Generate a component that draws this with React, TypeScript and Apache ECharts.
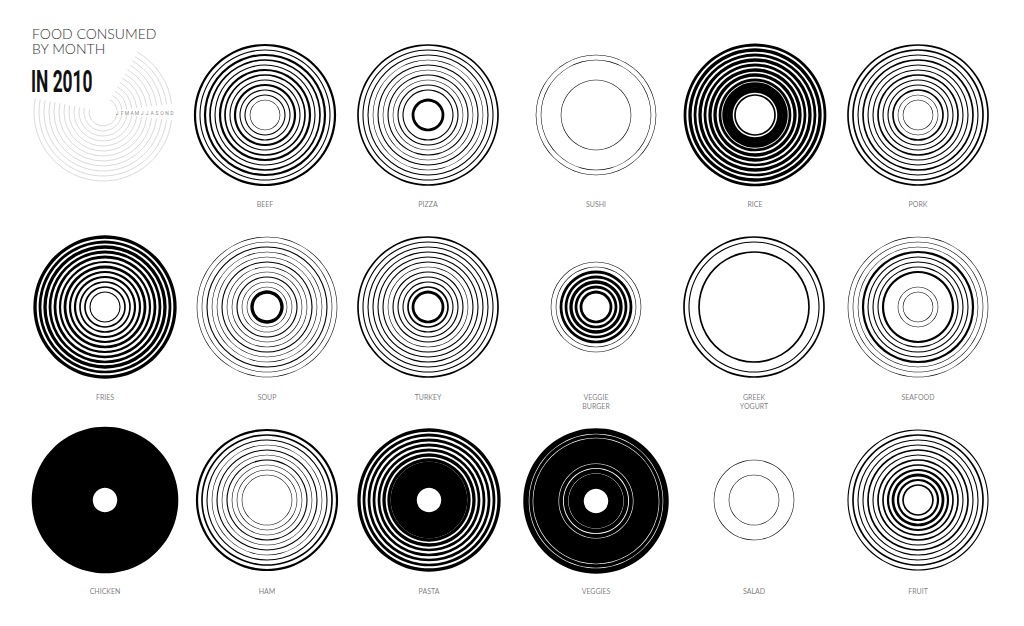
import React, { useEffect, useRef } from 'react';
import * as echarts from 'echarts';

// ---------- data ----------
const MONTHS = ['J', 'F', 'M', 'A', 'M', 'J', 'J', 'A', 'S', 'O', 'N', 'D'];
const FOODS = [
  'BEEF', 'PIZZA', 'SUSHI', 'RICE', 'PORK',
  'FRIES', 'SOUP', 'TURKEY', 'VEGGIE\nBURGER', 'GREEK\nYOGURT', 'SEAFOOD',
  'CHICKEN', 'HAM', 'PASTA', 'VEGGIES', 'SALAD', 'FRUIT',
];
// servings per month, January (inner ring) to December (outer ring)
const beef = [1, 2, 2, 4, 2, 3, 4, 2, 3, 4, 2, 4];
const pizza = [5, 0, 2, 2, 1, 2, 1, 2, 1, 2, 2, 3];
const sushi = [0, 0, 0, 0, 1, 0, 0, 0, 1, 1, 0, 0];
const rice = [0, 3, 10, 10, 5, 6, 6, 5, 6, 5, 6, 5];
const pork = [1, 1, 3, 2, 2, 3, 2, 2, 3, 2, 3, 3];
const fries = [2, 3, 3, 4, 4, 5, 4, 5, 5, 6, 5, 6];
const soup = [6, 1, 1, 2, 1, 1, 2, 1, 1, 2, 1, 1];
const turkey = [5, 3, 2, 2, 2, 1, 2, 2, 2, 2, 2, 3];
const veggieBurger = [5, 5, 6, 5, 5, 1, 1, 0, 0, 0, 0, 0];
const greekYogurt = [0, 0, 0, 0, 0, 0, 0, 0, 3, 0, 2, 3];
const seafood = [1, 1, 0, 0, 4, 2, 2, 2, 4, 1, 1, 1];
const chicken = [10, 12, 12, 12, 12, 12, 12, 12, 12, 12, 12, 12];
const ham = [0, 0, 1, 1, 1, 2, 1, 2, 1, 2, 3, 4];
const pasta = [10, 12, 12, 12, 12, 6, 6, 5, 5, 5, 5, 6];
const veggies = [10, 12, 9, 8, 7, 9, 12, 12, 12, 10, 6, 10];
const salad = [0, 0, 1, 0, 0, 1, 0, 0, 0, 0, 0, 0];
const fruit = [3, 4, 5, 4, 3, 3, 2, 3, 2, 2, 3, 2];
const FOOD_VALUES = [
  beef, pizza, sushi, rice, pork,
  fries, soup, turkey, veggieBurger, greekYogurt, seafood,
  chicken, ham, pasta, veggies, salad, fruit,
];

// ---------- layout ----------
const LEGEND_CENTER = [103, 112];
const CENTERS = [
  [265, 115], [428, 115], [596, 115], [755, 115], [918, 115],
  [105, 307], [267, 307], [428, 307], [596, 307], [754, 307], [918, 307],
  [105, 500], [267, 500], [429, 500], [596, 501], [754, 500], [918, 500],
];
const ROW_LABEL_Y = [199, 392, 586];
const HALF = 0.055; // month units of ring half-thickness per serving

export default function App() {
  const ref = useRef<HTMLDivElement>(null);
  useEffect(() => {
    document.body.style.margin = '0';
    const chart = echarts.init(ref.current as HTMLDivElement, null, { renderer: 'svg' });
    const all = [LEGEND_CENTER, ...CENTERS];
    const polar = all.map((c) => ({ center: c, radius: [0, 75] }));
    const hidden = {
      show: false, axisLine: { show: false }, splitLine: { show: false },
      axisLabel: { show: false }, axisTick: { show: false },
    };
    const radiusAxis = all.map((_, i) => ({ polarIndex: i, type: 'value', min: -3, max: 12, ...hidden }));
    const angleAxis = all.map((_, i) => ({ polarIndex: i, type: 'value', min: 0, max: 360, ...hidden }));

    const dist = (p: number[], cs: any) => Math.hypot(p[0] - cs.cx, p[1] - cs.cy);

    const legendSeries = {
      type: 'custom',
      coordinateSystem: 'polar',
      polarIndex: 0,
      silent: true,
      data: MONTHS.map((_, i) => [i - 0.2, 1]),
      renderItem: (params: any, api: any) => {
        const cs = params.coordSys;
        const i = params.dataIndex;
        const r = dist(api.coord([api.value(0), 0]), cs);
        const st = { stroke: '#d0d0d0', lineWidth: 0.8, fill: null };
        return {
          type: 'group',
          children: [
            { type: 'arc', shape: { cx: cs.cx, cy: cs.cy, r, startAngle: 0.12, endAngle: Math.PI + 0.2, clockwise: true }, style: st },
            { type: 'arc', shape: { cx: cs.cx, cy: cs.cy, r, startAngle: -1.05, endAngle: -0.12, clockwise: true }, style: st },
            {
              type: 'text', x: cs.cx + r, y: cs.cy + 1,
              style: { text: MONTHS[i], fontSize: 5, fontFamily: 'Roboto', fill: 'rgba(0,0,0,0.5)', align: 'center', verticalAlign: 'middle' },
            },
          ],
        };
      },
    };

    const foodSeries = FOOD_VALUES.map((vals, fi) => ({
      type: 'custom',
      name: FOODS[fi],
      coordinateSystem: 'polar',
      polarIndex: fi + 1,
      silent: true,
      data: vals.map((v, m) => [m, v]).filter((d) => d[1] > 0),
      renderItem: (params: any, api: any) => {
        const cs = params.coordSys;
        const m = api.value(0);
        const s = api.value(1);
        const r0 = dist(api.coord([m - s * HALF, 0]), cs);
        const r = dist(api.coord([m + s * HALF, 0]), cs);
        return { type: 'ring', shape: { cx: cs.cx, cy: cs.cy, r, r0 }, style: { fill: '#000' } };
      },
    }));

    const labels = FOODS.map((name, i) => ({
      type: 'text',
      x: CENTERS[i][0],
      y: ROW_LABEL_Y[i < 5 ? 0 : i < 11 ? 1 : 2],
      silent: true,
      style: {
        text: name, fontSize: 7, lineHeight: 9, fontFamily: 'Lato', fill: 'rgba(0,0,0,0.55)',
        align: 'center', verticalAlign: 'top',
      },
    }));

    chart.setOption({
      animation: false,
      backgroundColor: '#fff',
      polar,
      radiusAxis,
      angleAxis,
      series: [legendSeries, ...foodSeries],
      graphic: [
        {
          type: 'text', x: 32, y: 26, silent: true,
          style: { text: 'FOOD CONSUMED', fontSize: 14, fontFamily: 'Lato', fontWeight: 300, fill: '#333' },
        },
        {
          type: 'text', x: 32, y: 41, silent: true,
          style: { text: 'BY MONTH', fontSize: 14, fontFamily: 'Lato', fontWeight: 300, fill: '#333' },
        },
        {
          type: 'text', x: 31, y: 66, scaleX: 0.56, silent: true,
          style: { text: 'IN 2010', fontSize: 31, fontFamily: 'Roboto', fontWeight: 'bold', fill: '#111' },
        },
        ...labels,
      ],
    });
    return () => chart.dispose();
  }, []);
  return <div ref={ref} style={{ width: 1024, height: 626 }} />;
}
